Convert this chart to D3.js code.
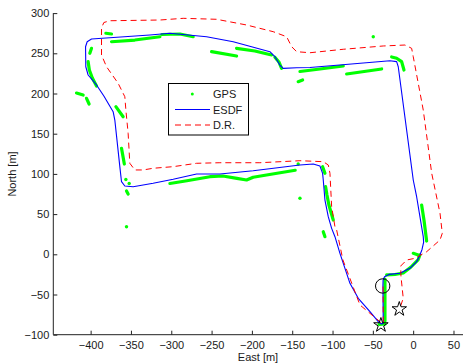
<!DOCTYPE html>
<html>
<head>
<meta charset="utf-8">
<script src="https://cdn.jsdelivr.net/npm/d3@7"></script>
<style>
  html, body { margin: 0; padding: 0; background: #fff; }
  svg { display: block; }
  text { font-family: "Liberation Sans", Arial, Helvetica, sans-serif; fill: #1a1a1a; }
</style>
</head>
<body>
<svg id="chart" width="463" height="364"></svg>
<script>
// Tick values for the two axes (metres)
const xTicks = [-400, -350, -300, -250, -200, -150, -100, -50, 0, 50];
const yTicks = [-100, -50, 0, 50, 100, 150, 200, 250, 300];

// Legend entries
const seriesNames = ["GPS", "ESDF", "D.R."];

// Filtered trajectory (ESDF), [east, north] in metres
const esdfTrack = [
  [-37.5, -39.4], [-37.1, -85.4], [-39.1, -86.7], [-43.3, -83.8], [-53.6, -71.4],
  [-68.1, -54.7], [-78.4, -36.1], [-90.8, 1.2], [-97.0, 21.9], [-101.1, 32.3],
  [-105.3, 46.8], [-109.4, 67.5], [-111.5, 92.4], [-112.3, 100.7], [-115.6, 109.8],
  [-123.9, 112.3], [-140.4, 111.1], [-198.4, 104.0], [-239.7, 99.9], [-268.6, 99.9],
  [-297.6, 93.3], [-322.5, 88.3], [-347.3, 84.1], [-357.6, 84.9], [-361.7, 90.3],
  [-363.8, 109.0], [-370.0, 167.0], [-372.1, 177.4], [-383.6, 196.9], [-392.7, 210.6],
  [-403.1, 223.0], [-406.0, 233.3], [-406.3, 258.2], [-404.3, 264.4], [-398.9, 267.8],
  [-326.6, 272.8], [-301.7, 274.9], [-256.2, 270.6], [-223.2, 264.4], [-177.7, 252.0],
  [-171.5, 245.8], [-165.3, 235.4], [-161.2, 231.3], [-144.5, 232.1], [-128.0, 232.3],
  [-28.8, 240.8], [-20.5, 239.6], [-18.5, 233.3], [0.1, 92.4], [4.3, 71.6],
  [12.5, 21.9], [13.0, 15.0], [11.0, 6.0], [8.4, -0.9], [4.3, -9.2], [-4.0, -17.4],
  [-16.4, -23.6], [-30.0, -25.0], [-35.5, -28.0], [-37.3, -32.0], [-37.5, -39.4]
];

// Dead-reckoning trajectory (D.R.), [east, north] in metres
const drTrack = [
  [-37.3, -40.0], [-37.1, -85.4], [-39.1, -86.7], [-41.2, -83.8], [-66.0, -63.0],
  [-87.1, -7.1], [-94.9, 30.2], [-97.0, 34.3], [-101.1, 59.2], [-103.2, 100.7],
  [-105.3, 111.1], [-111.5, 115.2], [-140.4, 116.4], [-190.1, 113.9], [-239.7, 113.9],
  [-268.6, 113.2], [-297.6, 109.0], [-322.5, 107.0], [-334.9, 104.9], [-345.2, 104.9],
  [-351.4, 113.2], [-353.5, 150.5], [-356.3, 179.5], [-357.6, 196.0], [-365.9, 212.7],
  [-380.3, 233.3], [-386.5, 247.9], [-386.5, 281.5], [-383.6, 288.3], [-376.2, 290.5],
  [-314.1, 291.4], [-285.2, 293.5], [-243.8, 292.3], [-206.6, 285.2], [-173.6, 276.9],
  [-156.9, 270.6], [-150.7, 258.2], [-144.5, 252.0], [-128.0, 250.7], [-86.7, 255.0],
  [-37.1, 259.1], [-10.2, 260.3], [-1.9, 256.2], [0.1, 245.8], [12.5, 179.5],
  [23.0, 100.7], [33.3, 51.0], [36.1, 26.1], [33.3, 17.8], [16.7, 3.2], [2.2, -5.0],
  [-8.1, -7.1], [-15.5, -14.6], [-15.1, -27.9], [-12.3, -54.7], [-16.4, -66.8]
];

// GPS fixes: runs of consecutive fixes, [east, north] in metres
const gpsRuns = [
  [[-381.1, 274.9], [-374.1, 274.0]],
  [[-374.1, 264.4], [-345.2, 266.5], [-314.1, 270.6]],
  [[-311.7, 273.4], [-289.3, 274.0], [-272.8, 270.6]],
  [[-398.9, 256.2], [-401.0, 250.0]],
  [[-403.1, 239.6], [-401.6, 229.2], [-397.9, 219.3], [-392.7, 209.3]],
  [[-417.5, 200.6], [-409.3, 198.1]],
  [[-405.1, 194.0], [-401.9, 186.9]],
  [[-368.7, 183.6], [-359.7, 171.1]],
  [[-361.7, 131.8], [-358.2, 112.3]],
  [[-355.5, 78.7], [-353.5, 75.0]],
  [[-301.7, 88.1], [-280.6, 91.5], [-252.1, 96.5], [-236.0, 97.4], [-218.6, 94.5],
   [-206.6, 92.4], [-198.4, 95.8], [-181.8, 98.6], [-146.3, 104.5]],
  [[-112.3, 109.0], [-109.4, 100.7]],
  [[-108.6, 84.1], [-106.9, 73.8], [-104.5, 61.3], [-99.1, 42.7]],
  [[-111.5, 28.1], [-109.4, 21.9]],
  [[-250.0, 252.0], [-219.0, 246.6]],
  [[-219.0, 256.2], [-196.3, 252.9], [-175.6, 247.9]],
  [[-171.5, 245.0], [-166.5, 239.2], [-163.2, 231.3]],
  [[-140.4, 227.4], [-115.6, 230.5], [-86.7, 234.2]],
  [[-142.6, 214.7], [-137.1, 216.8]],
  [[-82.5, 224.3], [-39.1, 230.5]],
  [[-26.7, 245.4], [-20.5, 243.8], [-14.3, 239.6], [-11.4, 229.2]],
  [[10.5, 61.3], [13.4, 42.7], [16.7, 16.5]],
  [[-32.9, -25.7], [-22.6, -25.1], [-12.3, -23.3], [-2.7, -15.8], [6.3, -6.5], [8.4, -0.9]],
  [[0.1, 1.2], [6.3, -0.9]],
  [[-35.0, -30.7], [-35.0, -83.0]],
  [[-42.4, -87.3], [-35.0, -86.7]]
];
// Isolated GPS fixes
const gpsSingles = [
  [-356.3, 93.0], [-352.2, 88.1], [-355.5, 34.3], [-142.6, 112.3],
  [-140.4, 69.7], [-49.5, 270.6]
];

// Start / end markers
const startPoint = [-40.0, -87.1];   // pentagram
const drEndPoint = [-17.2, -67.2];   // pentagram
const loopPoint = [-37.8, -39.4];    // circle

const svg = d3.select("#chart");
const x = d3.scaleLinear().domain([-446.3, 61.8]).range([53.3, 463]);
const y = d3.scaleLinear().domain([-100, 300]).range([334.7, 13.1]);

const line = d3.line().x(d => x(d[0])).y(d => y(d[1]));

// GPS runs
const gpsColor = "#00ff00";
svg.append("g").selectAll("path").data(gpsRuns).join("path")
  .attr("d", line)
  .attr("fill", "none")
  .attr("stroke", gpsColor)
  .attr("stroke-width", 3.2)
  .attr("stroke-linecap", "round")
  .attr("stroke-linejoin", "round");
svg.append("g").selectAll("circle").data(gpsSingles).join("circle")
  .attr("cx", d => x(d[0])).attr("cy", d => y(d[1])).attr("r", 1.7)
  .attr("fill", gpsColor);

// ESDF
svg.append("path").datum(esdfTrack)
  .attr("d", line).attr("fill", "none")
  .attr("stroke", "#0000ff").attr("stroke-width", 1.1)
  .attr("stroke-linejoin", "round");

// Dead reckoning
svg.append("path").datum(drTrack)
  .attr("d", line).attr("fill", "none")
  .attr("stroke", "#ff0000").attr("stroke-width", 1)
  .attr("stroke-dasharray", "6,4");

// Pentagram outline, outer radius R
function pentagram(R) {
  const r = R * 0.382;
  const pts = d3.range(10).map(i => {
    const a = -Math.PI / 2 + i * Math.PI / 5;
    const rad = i % 2 === 0 ? R : r;
    return [rad * Math.cos(a), rad * Math.sin(a)];
  });
  return "M" + pts.map(p => p[0].toFixed(2) + "," + p[1].toFixed(2)).join("L") + "Z";
}

// Markers
[startPoint, drEndPoint].forEach(p => {
  svg.append("path").attr("d", pentagram(7.6))
    .attr("transform", `translate(${x(p[0])},${y(p[1]) + 0.8})`)
    .attr("fill", "none").attr("stroke", "#000").attr("stroke-width", 1)
    .attr("stroke-linejoin", "miter");
});
svg.append("circle")
  .attr("cx", x(loopPoint[0])).attr("cy", y(loopPoint[1])).attr("r", 7.2)
  .attr("fill", "none").attr("stroke", "#000").attr("stroke-width", 1);

// Axes (ticks point inward)
const fmt = d => d < 0 ? "\u2212" + Math.abs(d) : String(d);
const xAxis = d3.axisBottom(x).tickValues(xTicks).tickSize(-4).tickPadding(7).tickFormat(fmt);
const yAxis = d3.axisLeft(y).tickValues(yTicks).tickSize(-4).tickPadding(4).tickFormat(fmt);

const gx = svg.append("g").attr("transform", `translate(0,${y(-100)})`).call(xAxis);
const gy = svg.append("g").attr("transform", `translate(${x(-446.3)},0)`).call(yAxis);
[gx, gy].forEach(g => {
  g.select(".domain").attr("stroke", "#222").attr("d",
    g === gx ? `M${x(-446.3)},0H463` : `M0,${y(300)}V${y(-100)}`);
  g.selectAll(".tick line").attr("stroke", "#222");
  g.selectAll(".tick text").attr("font-size", 11).attr("fill", "#1a1a1a")
    .style("font-family", '"Liberation Sans", Arial, sans-serif');
});

// Axis titles
svg.append("text").attr("x", 258).attr("y", 361).attr("text-anchor", "middle")
  .attr("font-size", 11).text("East [m]");
svg.append("text").attr("transform", `translate(16,174) rotate(-90)`)
  .attr("text-anchor", "middle").attr("font-size", 11).text("North [m]");

// Legend
const lg = svg.append("g");
lg.append("rect").attr("x", 168.5).attr("y", 83.5).attr("width", 80).attr("height", 51.5)
  .attr("fill", "#fff").attr("stroke", "#000").attr("stroke-width", 1);
const rowsY = [94, 109.5, 125];
lg.append("circle").attr("cx", 192.3).attr("cy", rowsY[0]).attr("r", 1.5).attr("fill", gpsColor);
lg.append("line").attr("x1", 175).attr("x2", 210).attr("y1", rowsY[1]).attr("y2", rowsY[1])
  .attr("stroke", "#0000ff").attr("stroke-width", 1.1);
lg.append("line").attr("x1", 175).attr("x2", 210).attr("y1", rowsY[2]).attr("y2", rowsY[2])
  .attr("stroke", "#ff0000").attr("stroke-width", 1).attr("stroke-dasharray", "6,4");
seriesNames.forEach((name, i) => {
  lg.append("text").attr("x", 213).attr("y", rowsY[i] + 4).attr("font-size", 11).text(name);
});
</script>
</body>
</html>
